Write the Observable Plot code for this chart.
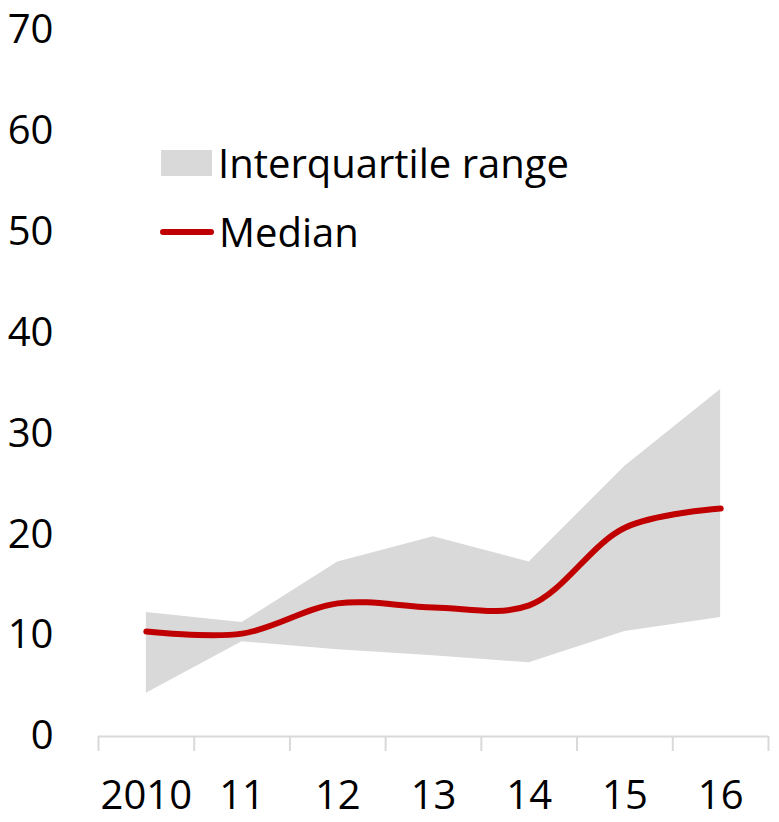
<!DOCTYPE html>
<html>
<head>
<meta charset="utf-8">
<script src="https://cdn.jsdelivr.net/npm/d3@7"></script>
<script src="https://cdn.jsdelivr.net/npm/@observablehq/plot@0.6"></script>
<style>
  html, body { margin: 0; padding: 0; background: #fff; }
  #wrap { position: relative; width: 779px; height: 822px; font-family: "Open Sans", "Noto Sans", sans-serif; }
  .leg { position: absolute; display: flex; align-items: center; font-size: 40px; color: #000; white-space: nowrap; }
  .sw-area { width: 51px; height: 26px; background: #d9d9d9; margin-right: 6px; }
  .sw-line { width: 54px; height: 6px; background: #c00000; border-radius: 3px; margin-right: 5px; }
</style>
</head>
<body>
<div id="wrap"></div>
<script>
const years = [2010, 2011, 2012, 2013, 2014, 2015, 2016];
const yearLabels = ["2010", "11", "12", "13", "14", "15", "16"];
const lowerQuartile = [4.3, 9.4, 8.6, 8.0, 7.3, 10.4, 11.8];
const upperQuartile = [12.3, 11.3, 17.3, 19.8, 17.3, 26.8, 34.4];
const median = [10.4, 10.2, 13.2, 12.8, 13.0, 20.7, 22.6];
const yTicks = [0, 10, 20, 30, 40, 50, 60, 70];
const legendLabels = ["Interquartile range", "Median"];

const data = years.map((y, i) => ({
  year: y,
  lo: lowerQuartile[i],
  hi: upperQuartile[i],
  med: median[i]
}));
const boundaries = years.map(y => y - 0.5).concat([years[years.length - 1] + 0.5]);
const labelOf = new Map(years.map((y, i) => [y, yearLabels[i]]));

const chart = Plot.plot({
  width: 779,
  height: 822,
  marginLeft: 98,
  marginRight: 11,
  marginTop: 30,
  marginBottom: 86,
  style: { fontFamily: "'Open Sans', 'Noto Sans', sans-serif", fontSize: "40px", color: "#000", background: "#fff" },
  x: { type: "linear", domain: [years[0] - 0.5, years[years.length - 1] + 0.5] },
  y: { domain: [0, 70] },
  marks: [
    Plot.areaY(data, { x: "year", y1: "lo", y2: "hi", fill: "#d9d9d9" }),
    Plot.ruleY([0], { stroke: "#d9d9d9", strokeWidth: 2 }),
    Plot.axisX({ ticks: boundaries, tickSize: 15, stroke: "#d9d9d9", strokeWidth: 2, tickFormat: () => "", label: null }),
    Plot.axisX({ ticks: years, tickSize: 0, tickPadding: 44, tickFormat: d => labelOf.get(d), fontSize: 40, fill: "#000", label: null }),
    Plot.axisY({ ticks: yTicks, tickSize: 0, tickPadding: 45, fontSize: 40, fill: "#000", label: null }),
    Plot.line(data, { x: "year", y: "med", stroke: "#c00000", strokeWidth: 6, curve: "catmull-rom", strokeLinecap: "round" })
  ]
});

const wrap = document.getElementById("wrap");
wrap.appendChild(chart);

const l1 = document.createElement("div");
l1.className = "leg";
l1.style.left = "161px";
l1.style.top = "135px";
l1.innerHTML = `<div class="sw-area"></div><span>${legendLabels[0]}</span>`;
wrap.appendChild(l1);

const l2 = document.createElement("div");
l2.className = "leg";
l2.style.left = "160px";
l2.style.top = "204px";
l2.innerHTML = `<div class="sw-line"></div><span>${legendLabels[1]}</span>`;
wrap.appendChild(l2);
</script>
</body>
</html>
